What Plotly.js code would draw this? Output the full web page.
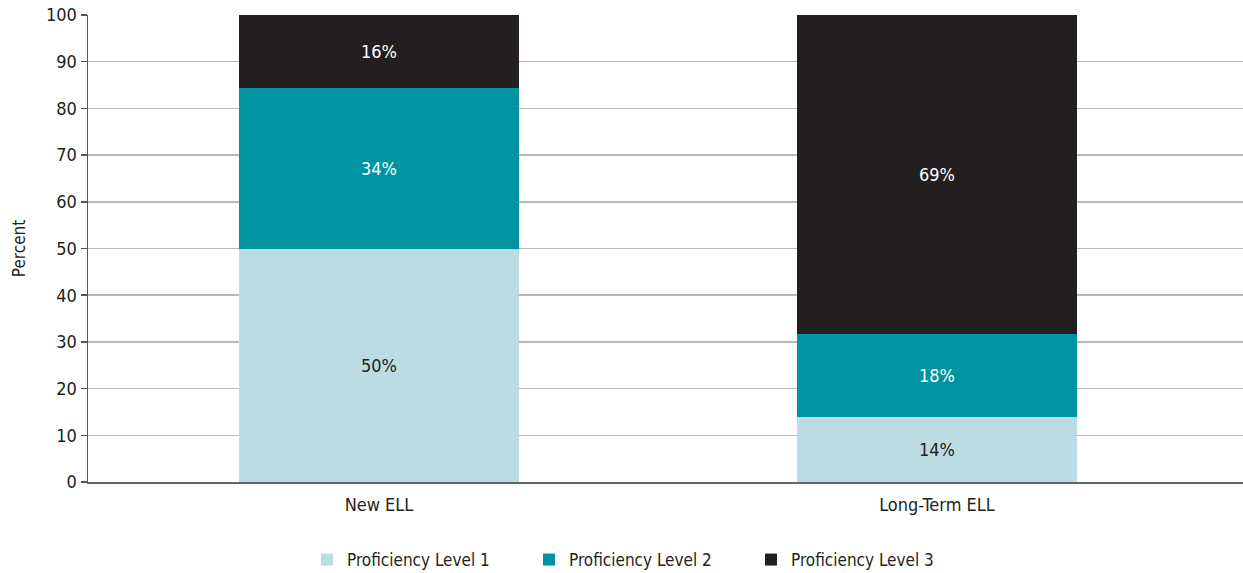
<!DOCTYPE html>
<html>
<head>
<meta charset="utf-8">
<script src="https://cdn.plot.ly/plotly-3.0.1.min.js"></script>
<style>
  html, body { margin: 0; padding: 0; background: #ffffff; }
  #chart { width: 1243px; height: 573px; }
</style>
</head>
<body>
<div id="chart"></div>
<script>
// ---- Data ----
const categories = ["New ELL", "Long-Term ELL"];
const seriesNames = ["Proficiency Level 1", "Proficiency Level 2", "Proficiency Level 3"];
const level1 = [50.0, 13.9];
const level2 = [34.3, 17.7];
const level3 = [15.7, 68.4];
const level1Labels = ["50%", "14%"];
const level2Labels = ["34%", "18%"];
const level3Labels = ["16%", "69%"];
const yTicks = [0, 10, 20, 30, 40, 50, 60, 70, 80, 90, 100];

// ---- Styles ----
const FONT = "'DejaVu Sans Condensed', 'Liberation Sans Narrow', sans-serif";
const colors = ["#bbdce2", "#0094a0", "#231f20"];
const textColors = ["#231f20", "#ffffff", "#ffffff"];
const values = [level1, level2, level3];
const labels = [level1Labels, level2Labels, level3Labels];

const traces = seriesNames.map((name, i) => ({
  type: "bar",
  name: name,
  x: categories,
  y: values[i],
  text: labels[i],
  texttemplate: "%{text}",
  textposition: "inside",
  insidetextanchor: "middle",
  textangle: 0,
  constraintext: "none",
  textfont: { family: FONT, size: 18, color: textColors[i] },
  marker: { color: colors[i], line: { width: 0 } },
  width: 0.502,
  hoverinfo: "skip"
}));

const layout = {
  width: 1243,
  height: 573,
  margin: { l: 88, r: 0, t: 15, b: 91, pad: 0 },
  barmode: "stack",
  paper_bgcolor: "#ffffff",
  plot_bgcolor: "#ffffff",
  font: { family: FONT, size: 18, color: "#231f20" },
  showlegend: true,
  legend: {
    orientation: "h",
    x: 0.1896,
    xanchor: "left",
    xref: "paper",
    y: 0.0227,
    yanchor: "middle",
    yref: "container",
    entrywidth: 177,
    entrywidthmode: "pixels",
    font: { family: FONT, size: 17, color: "#231f20" },
    traceorder: "normal"
  },
  xaxis: {
    type: "category",
    range: [-0.5215, 1.5484],
    showgrid: false,
    showline: true,
    linecolor: "#666666",
    linewidth: 2,
    ticks: "",
    ticklabelstandoff: 5,
    tickfont: { family: FONT, size: 18, color: "#231f20" },
    fixedrange: true,
    zeroline: false
  },
  yaxis: {
    range: [0, 100],
    tickvals: yTicks,
    ticktext: yTicks.map(String),
    showgrid: true,
    gridcolor: "#b8b8bb",
    gridwidth: 1.5,
    showline: true,
    linecolor: "#555555",
    linewidth: 1.5,
    ticks: "outside",
    ticklen: 6,
    tickwidth: 1.5,
    tickcolor: "#555555",
    tickfont: { family: FONT, size: 18, color: "#231f20" },
    zeroline: false,
    title: { text: "Percent", font: { family: FONT, size: 17, color: "#231f20" }, standoff: 16 },
    fixedrange: true
  }
};

Plotly.newPlot("chart", traces, layout, { displayModeBar: false, staticPlot: true });
</script>
</body>
</html>
